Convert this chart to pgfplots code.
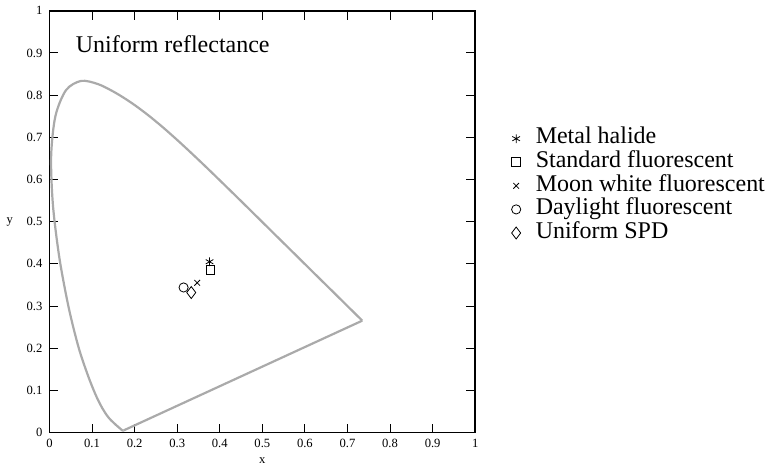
\documentclass[border=0pt]{standalone}
\usepackage{fontspec}
\setmainfont{Liberation Serif}
\usepackage{pgfplots}
\pgfplotsset{compat=1.18}
\definecolor{locus}{RGB}{170,170,170}
\begin{document}
\begin{tikzpicture}
\begin{axis}[
  scale only axis, width=213pt, height=211pt,
  xmin=0, xmax=1, ymin=0, ymax=1,
  xtick={0,0.1,0.2,0.3,0.4,0.5,0.6,0.7,0.8,0.9,1},
  ytick={0,0.1,0.2,0.3,0.4,0.5,0.6,0.7,0.8,0.9,1},
  tick align=inside, major tick length=4.5pt,
  axis line style={line width=0.75pt},
  every tick/.style={black, line width=0.5pt},
  tick label style={font=\fontsize{6.3}{7}\selectfont},
  /pgf/number format/assume math mode=true,
  xlabel={x}, ylabel={y},
  label style={font=\fontsize{6.3}{7}\selectfont},
  ylabel style={rotate=-90},
  xlabel style={yshift=2pt},
  legend style={draw=none, fill=none, at={(1,0.585)}, anchor=west, xshift=15pt,
    font=\fontsize{12}{12}\selectfont,
    nodes={inner sep=0.5pt, text height=8pt, text depth=2.8pt},
    column sep=7pt},
  legend cell align=left,
  legend image code/.code={\draw[mark repeat=2,mark phase=2] plot coordinates {(0pt,0pt)(4pt,0pt)(8pt,0pt)};},
]
\addplot[locus, line width=1.1pt, smooth, tension=0.5, forget plot] table {
0.1741 0.0050
0.1733 0.0048
0.1714 0.0051
0.1689 0.0069
0.1644 0.0109
0.1566 0.0177
0.1440 0.0297
0.1355 0.0399
0.1241 0.0578
0.1096 0.0868
0.0913 0.1327
0.0687 0.2007
0.0454 0.2950
0.0235 0.4127
0.0082 0.5384
0.0039 0.6548
0.0139 0.7502
0.0389 0.8120
0.0743 0.8338
0.1142 0.8262
0.1547 0.8059
0.1929 0.7816
0.2296 0.7543
0.2658 0.7243
0.3016 0.6923
0.3373 0.6589
0.3731 0.6245
0.4087 0.5896
0.4441 0.5547
0.4788 0.5202
0.5125 0.4866
0.5448 0.4544
0.5752 0.4242
0.6029 0.3965
0.6270 0.3725
0.6482 0.3514
0.6658 0.3340
0.6915 0.3083
0.7079 0.2920
0.7190 0.2809
0.7260 0.2740
0.7300 0.2700
0.7334 0.2666
0.7347 0.2653
};
\addplot[locus, line width=1.1pt, forget plot] table {
0.7347 0.2653
0.1741 0.0050
};
\addplot[only marks, mark=asterisk, mark size=2.2pt, black, line width=0.4pt] coordinates {(0.376,0.405)};
\addlegendentry{Metal halide}
\addplot[only marks, mark=square, mark size=2.2pt, black, line width=0.4pt] coordinates {(0.378,0.386)};
\addlegendentry{Standard fluorescent}
\addplot[only marks, mark=x, mark size=2pt, black, line width=0.4pt] coordinates {(0.347,0.355)};
\addlegendentry{Moon white fluorescent}
\addplot[only marks, mark=o, mark size=2.3pt, black, line width=0.4pt] coordinates {(0.315,0.344)};
\addlegendentry{Daylight fluorescent}
\addplot[only marks, mark=diamond, mark size=3pt, black, line width=0.4pt] coordinates {(0.333,0.332)};
\addlegendentry{Uniform SPD}
\node[anchor=base west, inner sep=0pt, font=\fontsize{12}{12}\selectfont] at (rel axis cs:0.061,0.9) {Uniform reflectance};
\coordinate (sw) at (rel axis cs:0,0);
\end{axis}
\path (sw) ++(-24.5pt,-17pt) rectangle ++(389pt,233pt);
\end{tikzpicture}
\end{document}
